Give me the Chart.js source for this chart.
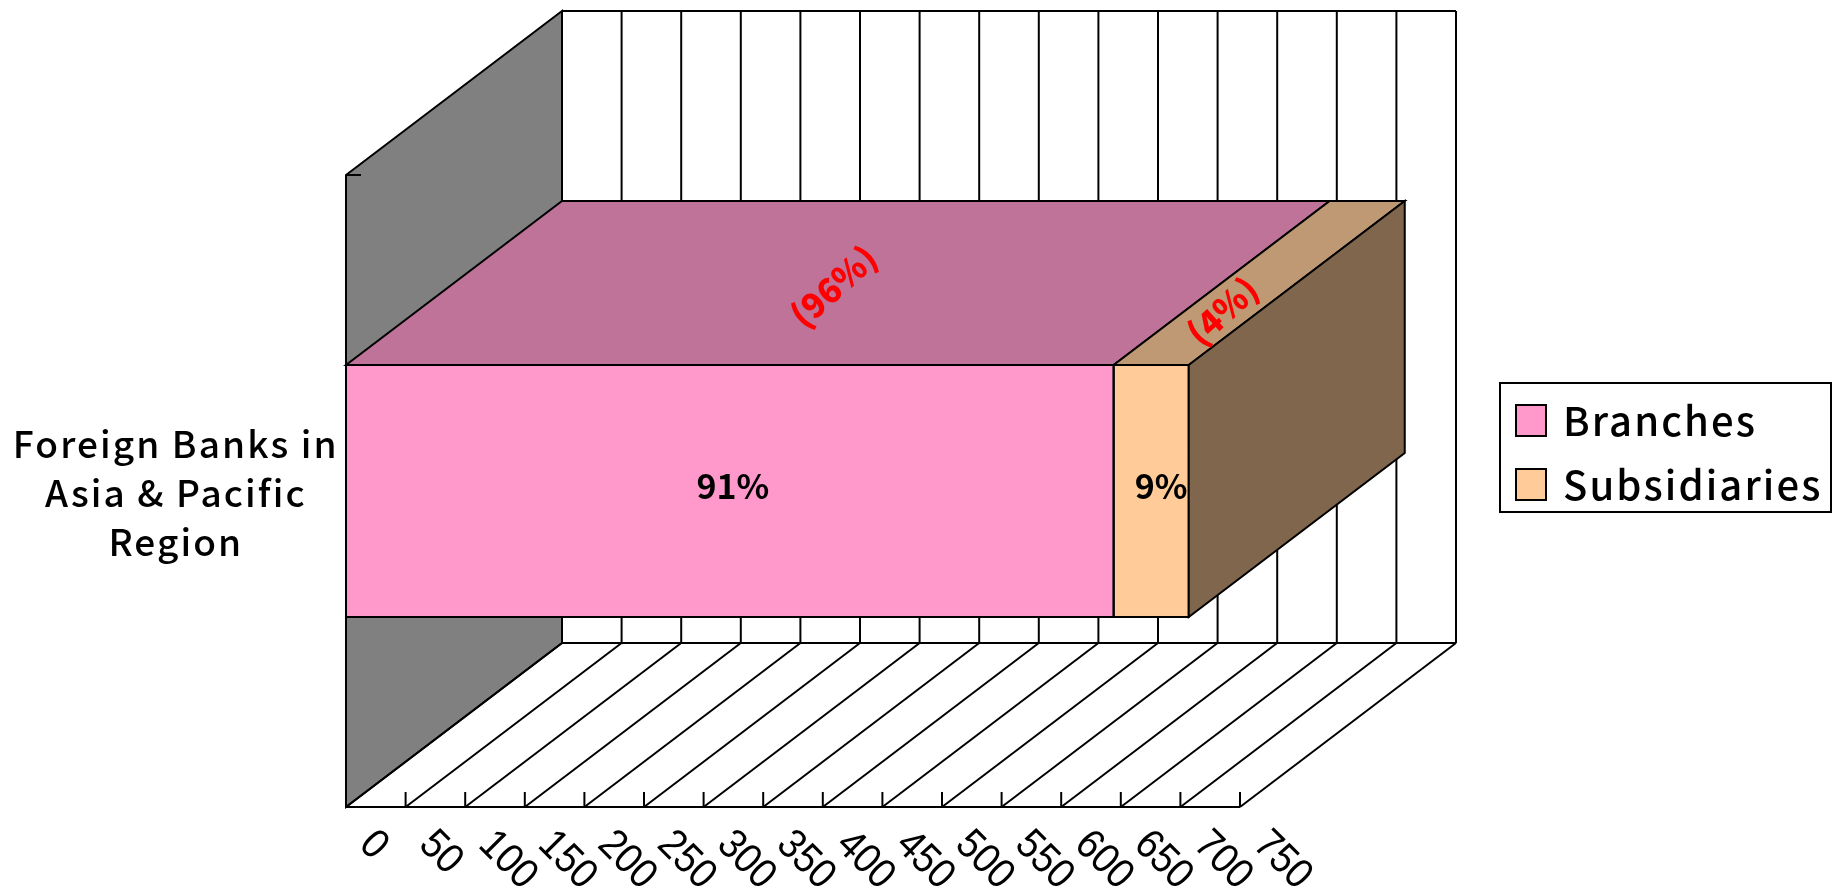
<!DOCTYPE html>
<html lang="en">
<head>
  <meta charset="UTF-8">
  <title>Foreign Banks in Asia &amp; Pacific Region</title>
  <style>
    html, body { margin: 0; padding: 0; background: #fff; overflow: hidden; }
    canvas { display: block; }
  </style>
</head>
<body>
  <canvas id="bankChart" width="1839" height="887"></canvas>

  <script src="https://cdn.jsdelivr.net/npm/chart.js"></script>
  <script>
    // Chart values
    const categories = [['Foreign Banks in', 'Asia & Pacific', 'Region']];
    const seriesNames = ['Branches', 'Subsidiaries'];
    const branches = [644];
    const subsidiaries = [63];
    const topShares = ['(96%)', '(4%)'];
    const tickValues = [0, 50, 100, 150, 200, 250, 300, 350, 400, 450, 500, 550, 600, 650, 700, 750];
    const tickLabels = ['0', '50', '100', '150', '200', '250', '300', '350', '400', '450', '500', '550', '600', '650', '700', '750'];

    // Colours for front, top and side of each box
    const frontColors = ['#FF99CC', '#FFCC99'];
    const topColors = ['#BF7399', '#BF9973'];
    const sideColor = '#80664D';
    const wallColor = '#808080';

    const FONT = '"Noto Sans CJK JP", "Noto Sans", sans-serif';
    const DEPTH = { x: 216, y: -164 };

    function poly(ctx, pts, fill) {
      ctx.beginPath();
      pts.forEach(([x, y], i) => (i ? ctx.lineTo(x, y) : ctx.moveTo(x, y)));
      ctx.closePath();
      if (fill) {
        ctx.fillStyle = fill;
        ctx.fill();
      }
      ctx.stroke();
    }

    function line(ctx, x1, y1, x2, y2) {
      ctx.beginPath();
      ctx.moveTo(x1, y1);
      ctx.lineTo(x2, y2);
      ctx.stroke();
    }

    // Back wall, side wall and floor, behind the bars
    const roomPlugin = {
      id: 'room',
      beforeDraw(chart) {
        chart.ctx.letterSpacing = '2.1px';
      },
      beforeDatasetsDraw(chart) {
        const { ctx, chartArea: { left, right, top, bottom }, scales: { x } } = chart;
        ctx.save();
        ctx.letterSpacing = '0px';
        ctx.strokeStyle = '#000';
        ctx.lineWidth = 2;

        poly(ctx, [[left, top], [left + DEPTH.x, top + DEPTH.y], [left + DEPTH.x, bottom + DEPTH.y], [left, bottom]], wallColor);
        line(ctx, left, top, left + 15, top);

        x.ticks.forEach((tick, i) => {
          const px = x.getPixelForValue(tick.value);
          line(ctx, px + DEPTH.x, top + DEPTH.y, px + DEPTH.x, bottom + DEPTH.y);
          line(ctx, px, bottom, px + DEPTH.x, bottom + DEPTH.y);
          line(ctx, px, bottom, px, bottom - 15);

          ctx.save();
          ctx.translate(px + 20, bottom + 31);
          ctx.rotate(45 * Math.PI / 180);
          ctx.scale(0.9, 1);
          ctx.fillStyle = '#000';
          ctx.font = '42px "Liberation Sans", sans-serif';
          ctx.textAlign = 'left';
          ctx.textBaseline = 'middle';
          ctx.fillText(tickLabels[i], 0, 0);
          ctx.restore();
        });

        line(ctx, left + DEPTH.x, top + DEPTH.y, right + DEPTH.x, top + DEPTH.y);
        line(ctx, left + DEPTH.x, bottom + DEPTH.y, right + DEPTH.x, bottom + DEPTH.y);
        line(ctx, left, bottom, right, bottom);
        ctx.restore();
      },
      // Top and side faces, value labels and legend go over the bars
      afterDatasetsDraw(chart) {
        const { ctx } = chart;
        const total = branches[0] + subsidiaries[0];
        const labelNudge = [3, 10];
        const alongDepth = [0.48, 0.33];
        ctx.save();
        ctx.letterSpacing = '0px';
        ctx.strokeStyle = '#000';
        ctx.lineWidth = 2;

        const bars = chart.data.datasets.map((_, d) => chart.getDatasetMeta(d).data[0]);
        bars.forEach((bar, d) => {
          const yTop = bar.y - bar.height / 2;
          ctx.strokeRect(bar.base, yTop, bar.x - bar.base, bar.height);
          poly(ctx, [[bar.base, yTop], [bar.x, yTop], [bar.x + DEPTH.x, yTop + DEPTH.y], [bar.base + DEPTH.x, yTop + DEPTH.y]], topColors[d]);
        });

        const last = bars[bars.length - 1];
        const lastTop = last.y - last.height / 2;
        const lastBottom = last.y + last.height / 2;
        poly(ctx, [[last.x, lastTop], [last.x + DEPTH.x, lastTop + DEPTH.y], [last.x + DEPTH.x, lastBottom + DEPTH.y], [last.x, lastBottom]], sideColor);

        bars.forEach((bar, d) => {
          const mid = (bar.base + bar.x) / 2;
          const value = chart.data.datasets[d].data[0];
          ctx.font = 'bold 34px ' + FONT;
          ctx.textAlign = 'center';
          ctx.textBaseline = 'middle';
          ctx.fillStyle = '#000';
          ctx.fillText(Math.round(value / total * 100) + '%', mid + labelNudge[d], bar.y - 5);

          const yTop = bar.y - bar.height / 2;
          ctx.save();
          ctx.translate(mid + DEPTH.x * alongDepth[d], yTop + DEPTH.y * alongDepth[d]);
          ctx.rotate(-42 * Math.PI / 180);
          ctx.fillStyle = '#FF0000';
          ctx.font = '900 34px ' + FONT;
          ctx.fillText(topShares[d], 0, 0);
          ctx.restore();
        });

        // Legend box
        ctx.fillStyle = '#fff';
        ctx.fillRect(1500, 383, 331, 129);
        ctx.strokeRect(1500, 383, 331, 129);
        seriesNames.forEach((name, i) => {
          const rowY = 405 + i * 64;
          ctx.fillStyle = frontColors[i];
          ctx.fillRect(1516, rowY, 30, 31);
          ctx.strokeRect(1516, rowY, 30, 31);
          ctx.fillStyle = '#000';
          ctx.letterSpacing = '2.1px';
          ctx.font = '500 40px ' + FONT;
          ctx.textAlign = 'left';
          ctx.textBaseline = 'middle';
          ctx.fillText(name, 1563, rowY + 16);
        });
        ctx.restore();
      }
    };

    new Chart(document.getElementById('bankChart'), {
      type: 'bar',
      data: {
        labels: categories,
        datasets: [
          { label: seriesNames[0], data: branches, backgroundColor: frontColors[0] },
          { label: seriesNames[1], data: subsidiaries, backgroundColor: frontColors[1] }
        ]
      },
      options: {
        indexAxis: 'y',
        responsive: false,
        animation: false,
        layout: { padding: { left: 0, right: 599, top: 175, bottom: 80 } },
        datasets: {
          bar: {
            borderWidth: 0,
            barPercentage: 1,
            categoryPercentage: 0.3987
          }
        },
        plugins: {
          legend: { display: false },
          tooltip: { enabled: false }
        },
        scales: {
          x: {
            stacked: true,
            min: 0,
            max: 750,
            grid: { display: false },
            border: { display: false },
            ticks: { display: false },
            afterBuildTicks: scale => { scale.ticks = tickValues.map(value => ({ value })); },
            afterFit: scale => { scale.height = 0; }
          },
          y: {
            stacked: true,
            grid: { display: false, drawTicks: false },
            border: { display: false },
            ticks: {
              crossAlign: 'center',
              padding: 24,
              labelOffset: 2,
              color: '#000',
              font: { family: FONT, size: 37, weight: 500, lineHeight: 49 / 37 }
            },
            // The three-line label must not push the plot area in
            afterFit: scale => {
              scale.width = 346;
              scale.paddingTop = 0;
              scale.paddingBottom = 0;
            }
          }
        }
      },
      plugins: [roomPlugin]
    });
  </script>
</body>
</html>
